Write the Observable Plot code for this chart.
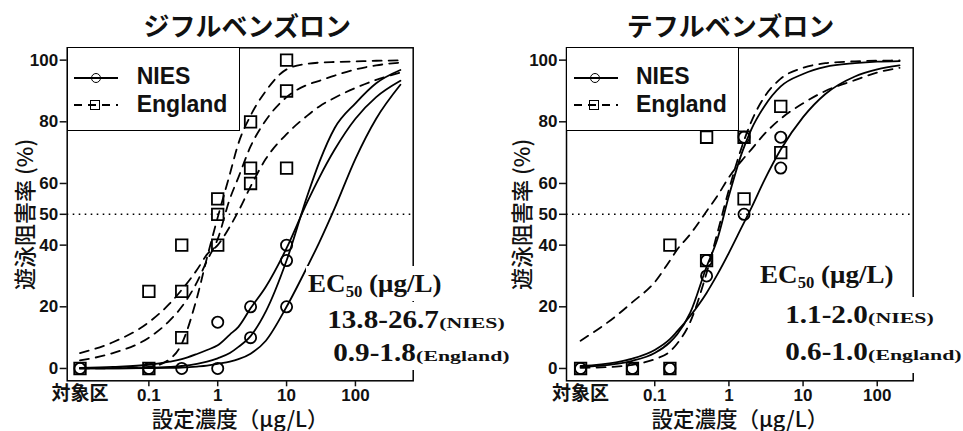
<!DOCTYPE html>
<html>
<head>
<meta charset="utf-8">
<script src="https://cdn.jsdelivr.net/npm/d3@7"></script>
<script src="https://cdn.jsdelivr.net/npm/@observablehq/plot@0.6"></script>
<style>
  html, body { margin: 0; padding: 0; background: #fff; }
  #wrap { position: relative; width: 963px; height: 431px; overflow: hidden; background: #fff; }
  .panel { position: absolute; top: 0; }
  .panel svg { overflow: visible; background: transparent; display: block; }
  .legend { position: absolute; box-sizing: border-box; border: 1.5px solid #000; background: #fff; }
  .legend .sample { position: absolute; height: 2px; width: 44px; }
  .legend .solid { background: #000; }
  .legend .dashed { background: repeating-linear-gradient(to right, #000 0 8px, transparent 8px 14px); }
  .legend .mk { position: absolute; box-sizing: border-box; width: 10px; height: 10px; border: 1.6px solid #000; }
  .legend .circ { border-radius: 50%; }
  .legend .txt { position: absolute; font-family: "Liberation Sans", Arial, sans-serif; font-weight: bold; font-size: 23px; line-height: 23px; color: #111; white-space: nowrap; }
  .ec { position: absolute; font-family: "Liberation Serif", "Times New Roman", serif; font-weight: bold; font-size: 26px; line-height: 35px; height: 35px; background: #fff; padding: 0 2px; white-space: nowrap; color: #111; transform-origin: 0 50%; }
  .ec.head { transform: scaleX(1.04); }
  .ec.val { transform: scaleX(1.12); }
  .ec sub { font-size: 16px; vertical-align: -5px; line-height: 0; }
  .ec .sm { display: inline-block; font-size: 15px; transform: scaleX(1.3); transform-origin: 0 50%; background: #fff; padding-right: 2px; }
</style>
</head>
<body>
<div id="wrap"></div>
<script>
// ---------- shared texts / ticks ----------
const yTicks = [0, 20, 40, 50, 60, 80, 100];
const xTicks = [0.1, 1, 10, 100];
const controlX = [0.01];
const controlLabel = "対象区";
const yLabel = "遊泳阻害率 (%)";
const xLabel = "設定濃度（μg/L）";
const titles = ["ジフルベンズロン", "テフルベンズロン"];
const legendNames = ["NIES", "England"];
const ec50Head = ["EC", "50", " (μg/L)"];

// ---------- ジフルベンズロン (diflubenzuron) ----------
const difluNiesX = [0.01, 0.1, 0.3, 1, 1, 3, 3, 10, 10, 10];
const difluNiesY = [0, 0, 0, 15, 0, 20, 10, 40, 35, 20];
const difluEngX = [0.01, 0.1, 0.1, 0.3, 0.3, 0.3, 1, 1, 1, 3, 3, 3, 10, 10, 10];
const difluEngY = [0, 25, 0, 40, 25, 10, 55, 50, 40, 80, 65, 60, 100, 90, 65];
const difluCurveX = [0.01, 0.03, 0.1, 0.2, 0.3, 0.5, 0.7, 1, 1.5, 2, 3, 5, 10, 20, 30, 50, 100, 200, 450];
const difluNiesA = [0.2, 0.5, 1.2, 2.2, 3, 4.7, 6, 7.5, 11, 13.5, 19.5, 26.5, 39, 54, 62, 71, 81, 88, 93.3];
const difluNiesB = [0, 0.05, 0.2, 0.5, 0.8, 1.5, 2.2, 3.3, 5, 7, 10.5, 18.5, 35, 56, 67, 78, 86, 92.5, 96.8];
const difluNiesC = [0, 0, 0.1, 0.2, 0.3, 0.6, 0.9, 1.5, 2.2, 3, 4.8, 9, 20, 33, 41, 52, 68, 81, 92];
const difluEngA = [0, 0.1, 0.5, 3, 8, 23, 36, 49, 63, 73, 82, 90, 97, 98.8, 99.2, 99.4, 99.6, 99.8, 99.9];
const difluEngB = [2.6, 5, 10, 15.5, 20, 28, 35, 42, 55, 62, 72, 80.5, 88, 92, 93.3, 95, 97, 98.3, 99.2];
const difluEngC = [5, 8.5, 15, 21, 25.5, 32, 37, 40, 46, 51, 59, 68, 76, 82, 85, 87.8, 91, 93.6, 96];
const difluEC50 = ["13.8-26.7", "0.9-1.8"];

// ---------- テフルベンズロン (teflubenzuron) ----------
const tefluNiesX = [0.01, 0.05, 0.16, 0.5, 0.5, 1.6, 1.6, 5, 5];
const tefluNiesY = [0, 0, 0, 30, 35, 75, 50, 75, 65];
const tefluEngX = [0.01, 0.05, 0.16, 0.16, 0.5, 0.5, 1.6, 1.6, 5, 5];
const tefluEngY = [0, 0, 40, 0, 75, 35, 75, 55, 85, 70];
const tefluCurveX = [0.01, 0.03, 0.05, 0.1, 0.16, 0.2, 0.3, 0.5, 0.7, 1, 1.5, 2, 3, 5, 10, 20, 50, 100, 200];
const tefluNiesA = [0.5, 1.5, 2.5, 5, 8.5, 11, 18, 33, 42, 56, 70, 77.5, 85, 91.5, 95.5, 97.8, 99, 99.5, 99.7];
const tefluNiesB = [0.8, 2, 3.2, 6, 9.5, 12, 17, 24.5, 30.5, 37.5, 46, 52, 61, 71, 81.5, 89, 94.7, 97, 98.3];
const tefluEngA = [0.2, 0.6, 1.2, 3, 5.5, 8, 15, 31, 44, 58, 72, 80, 88, 94, 97.5, 99, 99.6, 99.8, 99.9];
const tefluEngB = [9, 17, 21.5, 28, 35, 38.5, 43.5, 51, 56, 62, 67.5, 71, 76, 81, 86, 90, 93.5, 96, 97.5];
const tefluEC50 = ["1.1-2.0", "0.6-1.0"];

const SANS = "'Liberation Sans', Arial, sans-serif";
const JP = "'Noto Sans CJK JP', 'Noto Sans', sans-serif";

function makePanel(cfg) {
  const solid = {stroke: "#000", strokeWidth: 1.8, curve: "monotone-x"};
  const dash = {stroke: "#000", strokeWidth: 1.8, curve: "monotone-x", strokeDasharray: "9,7"};
  return Plot.plot({
    width: cfg.width,
    height: 431,
    marginLeft: cfg.ml,
    marginRight: cfg.mr,
    marginTop: 47.3,
    marginBottom: 50.7,
    style: {background: "transparent", overflow: "visible", fontFamily: SANS, color: "#111"},
    x: {type: "log", domain: cfg.domain, axis: null},
    y: {domain: [-4, 104], axis: null},
    marks: [
      Plot.ruleY([50], {stroke: "#000", strokeWidth: 1.6, strokeDasharray: "1.6,4.4"}),
      Plot.frame({stroke: "#000", strokeWidth: 1.5}),
      Plot.axisY(yTicks, {anchor: "left", label: null, tickSize: 7, tickPadding: 2, fontSize: 17, fontWeight: "bold", strokeWidth: 1.5, tickFormat: d => String(d)}),
      Plot.axisX(xTicks, {anchor: "bottom", label: null, tickSize: 6, tickPadding: 2.5, fontSize: 17, fontWeight: "bold", strokeWidth: 1.5, tickFormat: d => String(d)}),
      Plot.text(controlX, {x: d => d, frameAnchor: "bottom", lineAnchor: "top", dy: 5.5, text: () => controlLabel, fontSize: 19, fontWeight: "bold", fontFamily: JP}),
      ...cfg.nies.map(c => Plot.lineY(c, {x: cfg.curveX, ...solid})),
      ...cfg.eng.map(c => Plot.lineY(c, {x: cfg.curveX, ...dash})),
      Plot.dot(cfg.niesY, {x: cfg.niesX, y: d => d, r: 5.6, stroke: "#000", strokeWidth: 1.8, fill: "none"}),
      Plot.dot(cfg.engY, {x: cfg.engX, y: d => d, r: 6.5, symbol: "square", stroke: "#000", strokeWidth: 1.8, fill: "none"}),
      Plot.text([cfg.title], {frameAnchor: "top", lineAnchor: "middle", textAnchor: "middle", dy: -20.6, dx: cfg.titleDx, fontSize: 26, fontWeight: "bold", fontFamily: JP}),
      Plot.text([yLabel], {frameAnchor: "left", lineAnchor: "middle", textAnchor: "middle", rotate: -90, dx: cfg.ylabDx, fontSize: 22, fontWeight: 500, fontFamily: JP}),
      Plot.text([xLabel], {frameAnchor: "bottom", lineAnchor: "middle", textAnchor: "middle", dy: 39.5, fontSize: 21.5, fontWeight: 500, fontFamily: JP})
    ]
  });
}

const wrap = document.getElementById("wrap");

const panels = [
  {left: 0, width: 480, ml: 66.7, mr: 67.3, domain: [10 ** -2.186, 10 ** 2.839], title: titles[0], titleDx: 7, ylabDx: -41.7,
   curveX: difluCurveX, nies: [difluNiesA, difluNiesB, difluNiesC], eng: [difluEngA, difluEngB, difluEngC],
   niesX: difluNiesX, niesY: difluNiesY, engX: difluEngX, engY: difluEngY},
  {left: 480, width: 483, ml: 86, mr: 50.3, domain: [10 ** -2.19, 10 ** 2.485], title: titles[1], titleDx: -9.3, ylabDx: -43.5,
   curveX: tefluCurveX, nies: [tefluNiesA, tefluNiesB], eng: [tefluEngA, tefluEngB],
   niesX: tefluNiesX, niesY: tefluNiesY, engX: tefluEngX, engY: tefluEngY}
];

panels.forEach(p => {
  const div = document.createElement("div");
  div.className = "panel";
  div.style.left = p.left + "px";
  div.style.width = p.width + "px";
  div.appendChild(makePanel(p));
  wrap.appendChild(div);
});

// ---------- legends (HTML overlay) ----------
function addLegend(left) {
  const lg = document.createElement("div");
  lg.className = "legend";
  Object.assign(lg.style, {left: left + "px", top: "47.3px", width: "173.3px", height: "83.4px"});
  const rows = [{y: 29.7, cls: "solid", mk: "circ", mkx: 23.3}, {y: 57.2, cls: "dashed", mk: "sq", mkx: 22}];
  rows.forEach((r, i) => {
    const s = document.createElement("div");
    s.className = "sample " + r.cls;
    Object.assign(s.style, {left: "6.6px", top: (r.y - 1) + "px"});
    lg.appendChild(s);
    const m = document.createElement("div");
    m.className = "mk " + r.mk;
    Object.assign(m.style, {left: r.mkx + "px", top: (r.y - 5) + "px"});
    lg.appendChild(m);
    const t = document.createElement("div");
    t.className = "txt";
    t.textContent = legendNames[i];
    Object.assign(t.style, {left: "69px", top: (r.y - 12.5) + "px"});
    lg.appendChild(t);
  });
  wrap.appendChild(lg);
}
addLegend(66.7);
addLegend(566);

// ---------- EC50 annotations (HTML overlay with white boxes) ----------
function addEC(left, top, mainText, smallText) {
  const d = document.createElement("div");
  d.className = "ec " + (smallText === null ? "head" : "val");
  Object.assign(d.style, {left: left + "px", top: top + "px"});
  if (smallText === null) {
    d.append(mainText[0]);
    const sub = document.createElement("sub");
    sub.textContent = mainText[1];
    d.appendChild(sub);
    d.append(mainText[2]);
  } else {
    d.append(mainText);
    const sm = document.createElement("span");
    sm.className = "sm";
    sm.textContent = smallText;
    d.appendChild(sm);
  }
  wrap.appendChild(d);
}
addEC(306, 266, ec50Head, null);
addEC(324.5, 302, difluEC50[0], "(NIES)");
addEC(331, 335.4, difluEC50[1], "(England)");
addEC(758, 257, ec50Head, null);
addEC(783, 297, tefluEC50[0], "(NIES)");
addEC(783, 333.7, tefluEC50[1], "(England)");
</script>
</body>
</html>
